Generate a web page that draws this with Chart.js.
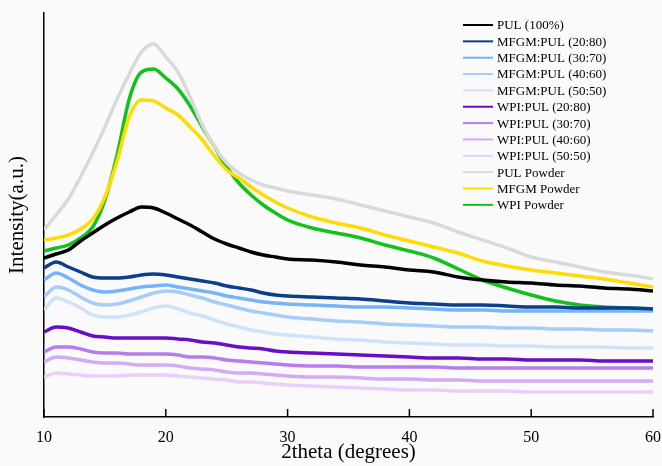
<!DOCTYPE html>
<html>
<head>
<meta charset="utf-8">
<script src="https://cdn.jsdelivr.net/npm/chart.js@4.4.1/dist/chart.umd.min.js"></script>
<style>
html,body{margin:0;padding:0;background:#fafafa;}
#wrap{width:662px;height:466px;}
</style>
</head>
<body>
<div id="wrap"><canvas id="c" width="662" height="466"></canvas></div>
<script>
const twoTheta = [10,11,12,13,14,15,16,17,18,19,20,21,22,23,24,25,26,27,28,29,30,32,34,36,38,40,42,44,46,48,50,52,54,56,58,60];
const xTicks = [10,20,30,40,50,60];

const pul100 = [159,163,167,176,184,192,199,205,210,209,204,198,192,185,178,173,169,165,162,160,158,157,155,152,150,147,145,140,137,135,134,132,131,129,128,126];
const mfgm2080 = [149,155,150,145,140,139,139,140,142,143,142,140,138,136,134,131,129,127,124,122,121,120,119,118,116,114,113,112,112,111,110,110,109,109,109,108];
const mfgm3070 = [137,144,139,132,127,125,126,128,130,131,132,130,128,126,124,121,119,117,115,114,113,112,111,110,110,109,108,107,107,106,106,106,106,106,106,106];
const mfgm4060 = [120,130,127,120,114,112,113,116,120,124,126,125,122,119,115,112,109,106,104,102,100,98,96,95,93,92,91,90,90,89,89,88,88,87,87,86];
const mfgm5050 = [107,119,115,109,102,100,100,102,105,109,111,108,104,101,97,93,90,87,85,83,82,80,78,77,75,74,73,72,72,71,71,70,70,70,69,69];
const wpi2080 = [85,90,89,85,81,80,79,79,79,79,79,78,77,75,74,72,70,69,68,66,65,64,63,62,61,60,59,59,58,58,57,57,57,56,56,56];
const wpi3070 = [65,70,70,68,65,64,64,63,63,63,63,62,60,60,59,57,56,55,54,53,52,51,51,50,50,50,50,49,49,49,49,49,49,49,49,49];
const wpi4060 = [55,60,59,57,55,54,54,53,52,52,52,51,49,48,47,45,44,44,43,42,41,40,40,39,38,38,37,37,36,36,36,36,36,36,36,36];
const wpi5050 = [40,44,43,42,41,41,41,42,42,42,42,41,40,39,38,37,35,35,34,33,32,31,30,29,28,27,27,26,26,26,25,25,25,25,25,25];
const pulPowder = [187,202,218,240,264,290,318,343,365,373,360,345,320,292,270,254,244,237,232,229,226,222,218,212,206,200,194,185,177,169,160,155,150,145,142,138];
const mfgmPowder = [177,179,182,188,198,220,256,300,317,316,309,302,290,277,261,247,239,230,222,215,209,200,194,189,182,176,170,164,156,151,147,144,141,138,134,130];
const wpiPowder = [166,169,172,179,190,217,262,318,345,348,339,328,311,290,270,250,234,222,212,204,197,189,184,179,172,166,159,148,137,129,122,116,112,110,109,108];

const seriesNames = ["PUL (100%)","MFGM:PUL (20:80)","MFGM:PUL (30:70)","MFGM:PUL (40:60)","MFGM:PUL (50:50)","WPI:PUL (20:80)","WPI:PUL (30:70)","WPI:PUL (40:60)","WPI:PUL (50:50)","PUL Powder","MFGM Powder","WPI Powder"];
const seriesValues = [pul100,mfgm2080,mfgm3070,mfgm4060,mfgm5050,wpi2080,wpi3070,wpi4060,wpi5050,pulPowder,mfgmPowder,wpiPowder];
const seriesColors = ["#000000","#0b3f8e","#74b4f7","#a6cdfa","#cfe2fc","#6a0dc6","#b67ded","#d3abf3","#e9cff9","#d9d9d9","#ffdc00","#10c21a"];

const FONT = "'Liberation Serif','Times New Roman',serif";

const datasets = seriesNames.map((n,i)=>({
  label:n,
  data: twoTheta.map((x,j)=>({x:x,y:seriesValues[i][j]})),
  borderColor: seriesColors[i],
  backgroundColor: seriesColors[i],
  borderWidth: 3.5,
  pointRadius: 0,
  cubicInterpolationMode: 'monotone',
  fill:false
}));

const extras = {
  id:'extras',
  afterDraw(chart){
    const ctx = chart.ctx;
    const xs = chart.scales.x;
    const bottom = chart.chartArea.bottom;
    ctx.save();
    ctx.strokeStyle = '#000';
    ctx.lineWidth = 1.5;
    xTicks.forEach(v=>{
      const px = xs.getPixelForValue(v);
      ctx.beginPath();
      ctx.moveTo(px,bottom);
      ctx.lineTo(px,bottom-8);
      ctx.stroke();
    });
    const x0 = 463, x1 = 493, tx = 497, y0 = 25, dy = 16.35;
    ctx.font = "13px " + FONT;
    ctx.textBaseline = 'middle';
    ctx.textAlign = 'left';
    chart.data.datasets.forEach((d,i)=>{
      const y = y0 + i*dy;
      ctx.strokeStyle = d.borderColor;
      ctx.lineWidth = 2;
      ctx.beginPath();
      ctx.moveTo(x0,y);
      ctx.lineTo(x1,y);
      ctx.stroke();
      ctx.fillStyle = '#000';
      ctx.fillText(d.label, tx, y+1);
    });
    ctx.restore();
  }
};

new Chart(document.getElementById('c'),{
  type:'line',
  data:{datasets:datasets},
  options:{
    responsive:false,
    animation:false,
    events:[],
    layout:{padding:{top:13,right:0,left:0,bottom:0}},
    plugins:{legend:{display:false},tooltip:{enabled:false}},
    scales:{
      x:{
        type:'linear',min:10,max:60,
        afterBuildTicks(s){ s.ticks = xTicks.map(v=>({value:v})); },
        afterFit(s){ s.height = 49; s.paddingRight = 9; },
        grid:{display:false},
        border:{display:true,color:'#000',width:1.5},
        ticks:{color:'#000',font:{family:FONT,size:16},padding:3,maxRotation:0},
        title:{display:true,text:'2theta (degrees)',color:'#000',font:{family:FONT,size:21},padding:{top:0,bottom:1}}
      },
      y:{
        type:'linear',min:0,max:404,
        afterFit(s){ s.width = 44; },
        grid:{display:false},
        border:{display:true,color:'#000',width:1.5},
        ticks:{display:false},
        title:{display:true,text:'Intensity(a.u.)',color:'#000',font:{family:FONT,size:21},padding:{top:5,bottom:0}}
      }
    }
  },
  plugins:[extras]
});
</script>
</body>
</html>
